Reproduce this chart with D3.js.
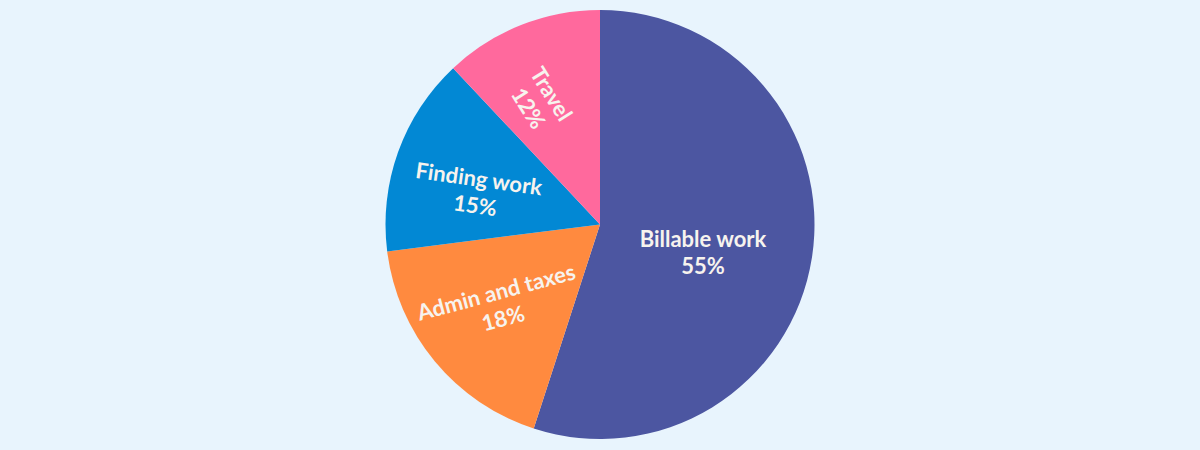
<!DOCTYPE html>
<html>
<head>
<meta charset="utf-8">
<script src="https://cdn.jsdelivr.net/npm/d3@7"></script>
<style>
  html, body { margin: 0; padding: 0; background: #e8f4fd; }
  svg { display: block; }
</style>
</head>
<body>
<svg width="1200" height="450"></svg>
<script>
    // data
    const categories = ['Billable work', 'Admin and taxes', 'Finding work', 'Travel'];
    const shares = [55, 18, 15, 12];

    // styles
    const colors = ['#4c56a1', '#ff8a3f', '#0288d4', '#ff699d'];
    // label distance (fraction of radius), angle nudge from slice middle (deg) and text rotation (deg)
    const labelRatio = { 'Billable work': 0.497, 'Admin and taxes': 0.6, 'Finding work': 0.593, 'Travel': 0.64 };
    const labelNudge = { 'Billable work': 6, 'Admin and taxes': 0.8, 'Finding work': -5, 'Travel': -4.3 };
    const labelRotate = { 'Billable work': 0, 'Admin and taxes': -15, 'Finding work': 8, 'Travel': 58 };

    const svg = d3.select('svg');
    const cx = 600, cy = 224.5;
    const radius = 214.5;

    const data = categories.map(function(c, i) { return { name: c, value: shares[i], color: colors[i] }; });

    const pie = d3.pie()
      .value(function(d) { return d.value; })
      .sort(null);

    const arc = d3.arc()
      .innerRadius(0)
      .outerRadius(radius);

    const g = svg.append('g')
      .attr('transform', 'translate(' + cx + ',' + cy + ')');

    const arcs = pie(data);

    g.selectAll('path')
      .data(arcs)
      .enter().append('path')
      .attr('d', arc)
      .attr('fill', function(d) { return d.data.color; });

    // labels
    const labels = g.selectAll('g.label')
      .data(arcs)
      .enter().append('g')
      .attr('class', 'label')
      .attr('transform', function(d) {
        const r = radius * labelRatio[d.data.name];
        const a = (d.startAngle + d.endAngle) / 2 + labelNudge[d.data.name] * Math.PI / 180;
        const x = r * Math.sin(a);
        const y = -r * Math.cos(a);
        return 'translate(' + x + ',' + y + ') rotate(' + labelRotate[d.data.name] + ')';
      });

    labels.append('text')
      .attr('text-anchor', 'middle')
      .attr('y', -5.5)
      .style('font-family', 'Lato, "Open Sans", sans-serif')
      .style('font-weight', 700)
      .style('font-size', '22px')
      .style('fill', '#f7f3ee')
      .text(function(d) { return d.data.name; });

    labels.append('text')
      .attr('text-anchor', 'middle')
      .attr('y', 21.5)
      .style('font-family', 'Lato, "Open Sans", sans-serif')
      .style('font-weight', 700)
      .style('font-size', '22px')
      .style('fill', '#f7f3ee')
      .text(function(d) { return d.data.value + '%'; });
</script>
</body>
</html>
